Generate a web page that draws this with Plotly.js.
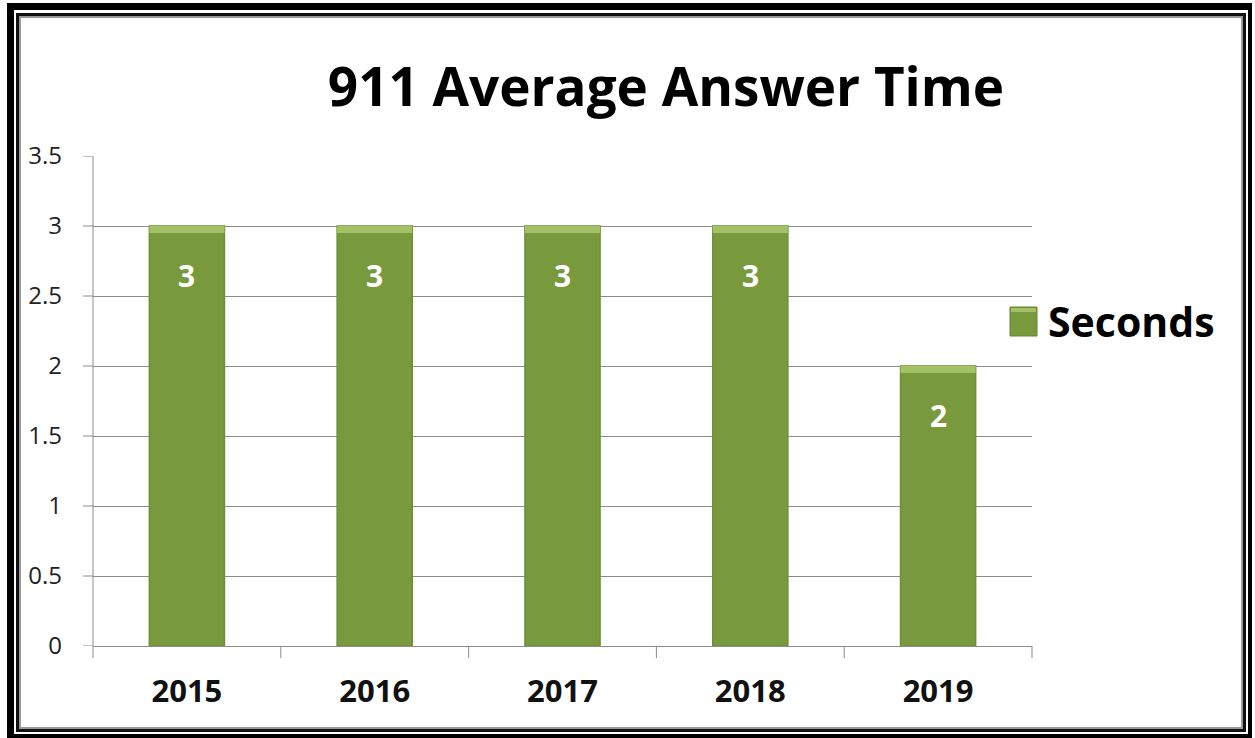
<!DOCTYPE html>
<html>
<head>
<meta charset="utf-8">
<script src="https://cdn.plot.ly/plotly-3.0.1.min.js"></script>
<style>
html,body{margin:0;padding:0;background:#fff;}
#chart{width:1255px;height:738px;}
</style>
</head>
<body>
<div id="chart"></div>
<script>
const years = ['2015', '2016', '2017', '2018', '2019'];
const seconds = [3, 3, 3, 3, 2];
const seriesName = 'Seconds';
const chartTitle = '911 Average Answer Time';
const yTicks = [0, 0.5, 1, 1.5, 2, 2.5, 3, 3.5];

const W = 1255, H = 738;
const M = {l: 93, r: 223, t: 156, b: 92};
const pw = W - M.l - M.r, ph = H - M.t - M.b;
const px = x => (x - M.l) / pw;
const py = y => (H - M.b - y) / ph;
function prect(x0, y0, x1, y1, color, line) {
  return {type: 'rect', xref: 'paper', yref: 'paper', layer: 'above',
    x0: px(x0), x1: px(x1), y0: py(y1), y1: py(y0),
    fillcolor: color, line: line || {width: 0}};
}
const frame = [
  prect(7, 3, 1251, 10, '#000'),
  prect(7, 3, 14, 738, '#000'),
  prect(1248, 3, 1252, 738, '#000'),
  prect(7, 734, 1252, 738, '#000'),
  prect(16, 13, 1246, 16, '#111'),
  prect(16, 13, 19, 732, '#111'),
  prect(1243, 13, 1246, 732, '#111'),
  prect(16, 729, 1246, 732, '#111'),
  prect(19, 16, 1243, 18, '#9a9a9a'),
  prect(19, 16, 21, 729, '#9a9a9a'),
  prect(1241, 16, 1243, 729, '#9a9a9a'),
  prect(19, 727, 1243, 729, '#9a9a9a'),
  {type: 'line', xref: 'paper', yref: 'paper', layer: 'above', x0: 0, x1: 0, y0: 0, y1: 1,
   line: {color: '#8c8c8c', width: 1}},
  ...[0, 1, 2, 3, 4, 5].map(i => ({type: 'line', xref: 'paper', yref: 'paper', layer: 'above',
    x0: i / 5, x1: i / 5, y0: 0, y1: py(658), line: {color: '#8c8c8c', width: 1}})),
  ...yTicks.map(v => ({type: 'line', xref: 'paper', yref: 'y', layer: 'above',
    x0: px(83), x1: 0, y0: v, y1: v, line: {color: '#8c8c8c', width: 1}})),
  // legend swatch
  prect(1010, 307, 1037, 336, '#789A3D', {color: '#65832F', width: 1}),
  prect(1011, 308, 1036, 312, '#A3C266')
];

const FONT = 'Open Sans, Lato, sans-serif';
const labels = years.map((yr, i) => ({
  x: i, y: seconds[i], xref: 'x', yref: 'y', text: '<b>' + seconds[i] + '</b>',
  showarrow: false, yshift: -49, font: {family: FONT, size: 30, color: '#fff'}
}));
labels.push({xref: 'paper', yref: 'paper', x: px(1046), y: py(321), xanchor: 'left', yanchor: 'middle',
  text: '<b>' + seriesName + '</b>', showarrow: false, font: {family: FONT, size: 41, color: '#000'}});

const trace = {
  type: 'bar', x: years, y: seconds, name: seriesName, width: 0.4,
  marker: {color: '#789A3D', line: {color: '#6E8F37', width: 1.5}},
  hoverinfo: 'none', showlegend: false
};
const bevel = {
  type: 'bar', x: years, y: seconds.map(v => 0.05), base: seconds.map(v => v - 0.05),
  width: 0.4, marker: {color: '#A3C266', line: {width: 0}}, showlegend: false, hoverinfo: 'none'
};

const layout = {
  width: W, height: H, margin: M, paper_bgcolor: '#fff', plot_bgcolor: '#fff',
  barmode: 'overlay', showlegend: false,
  title: {text: '<b>' + chartTitle + '</b>', x: px(666), xref: 'paper', xanchor: 'center',
    y: 1 - 87 / H, yanchor: 'middle',
    font: {family: FONT, size: 53, color: '#000'}},
  xaxis: {type: 'category', range: [-0.5, 4.5], showgrid: false, showline: true, linecolor: '#8c8c8c', linewidth: 1,
    ticks: '', tickfont: {family: FONT, size: 31, color: '#111', weight: 'bold'},
    ticklabelstandoff: 18, fixedrange: true},
  yaxis: {range: [0, 3.5], tickvals: yTicks, ticktext: yTicks.map(String), showgrid: true,
    gridcolor: '#8c8c8c', gridwidth: 1, zeroline: false, showline: false, ticks: '',
    tickfont: {family: FONT, size: 24, color: '#222'}, ticklabelstandoff: 30,
    fixedrange: true},
  shapes: frame,
  annotations: labels
};

Plotly.newPlot('chart', [trace, bevel], layout, {displayModeBar: false, staticPlot: true});
</script>
</body>
</html>
